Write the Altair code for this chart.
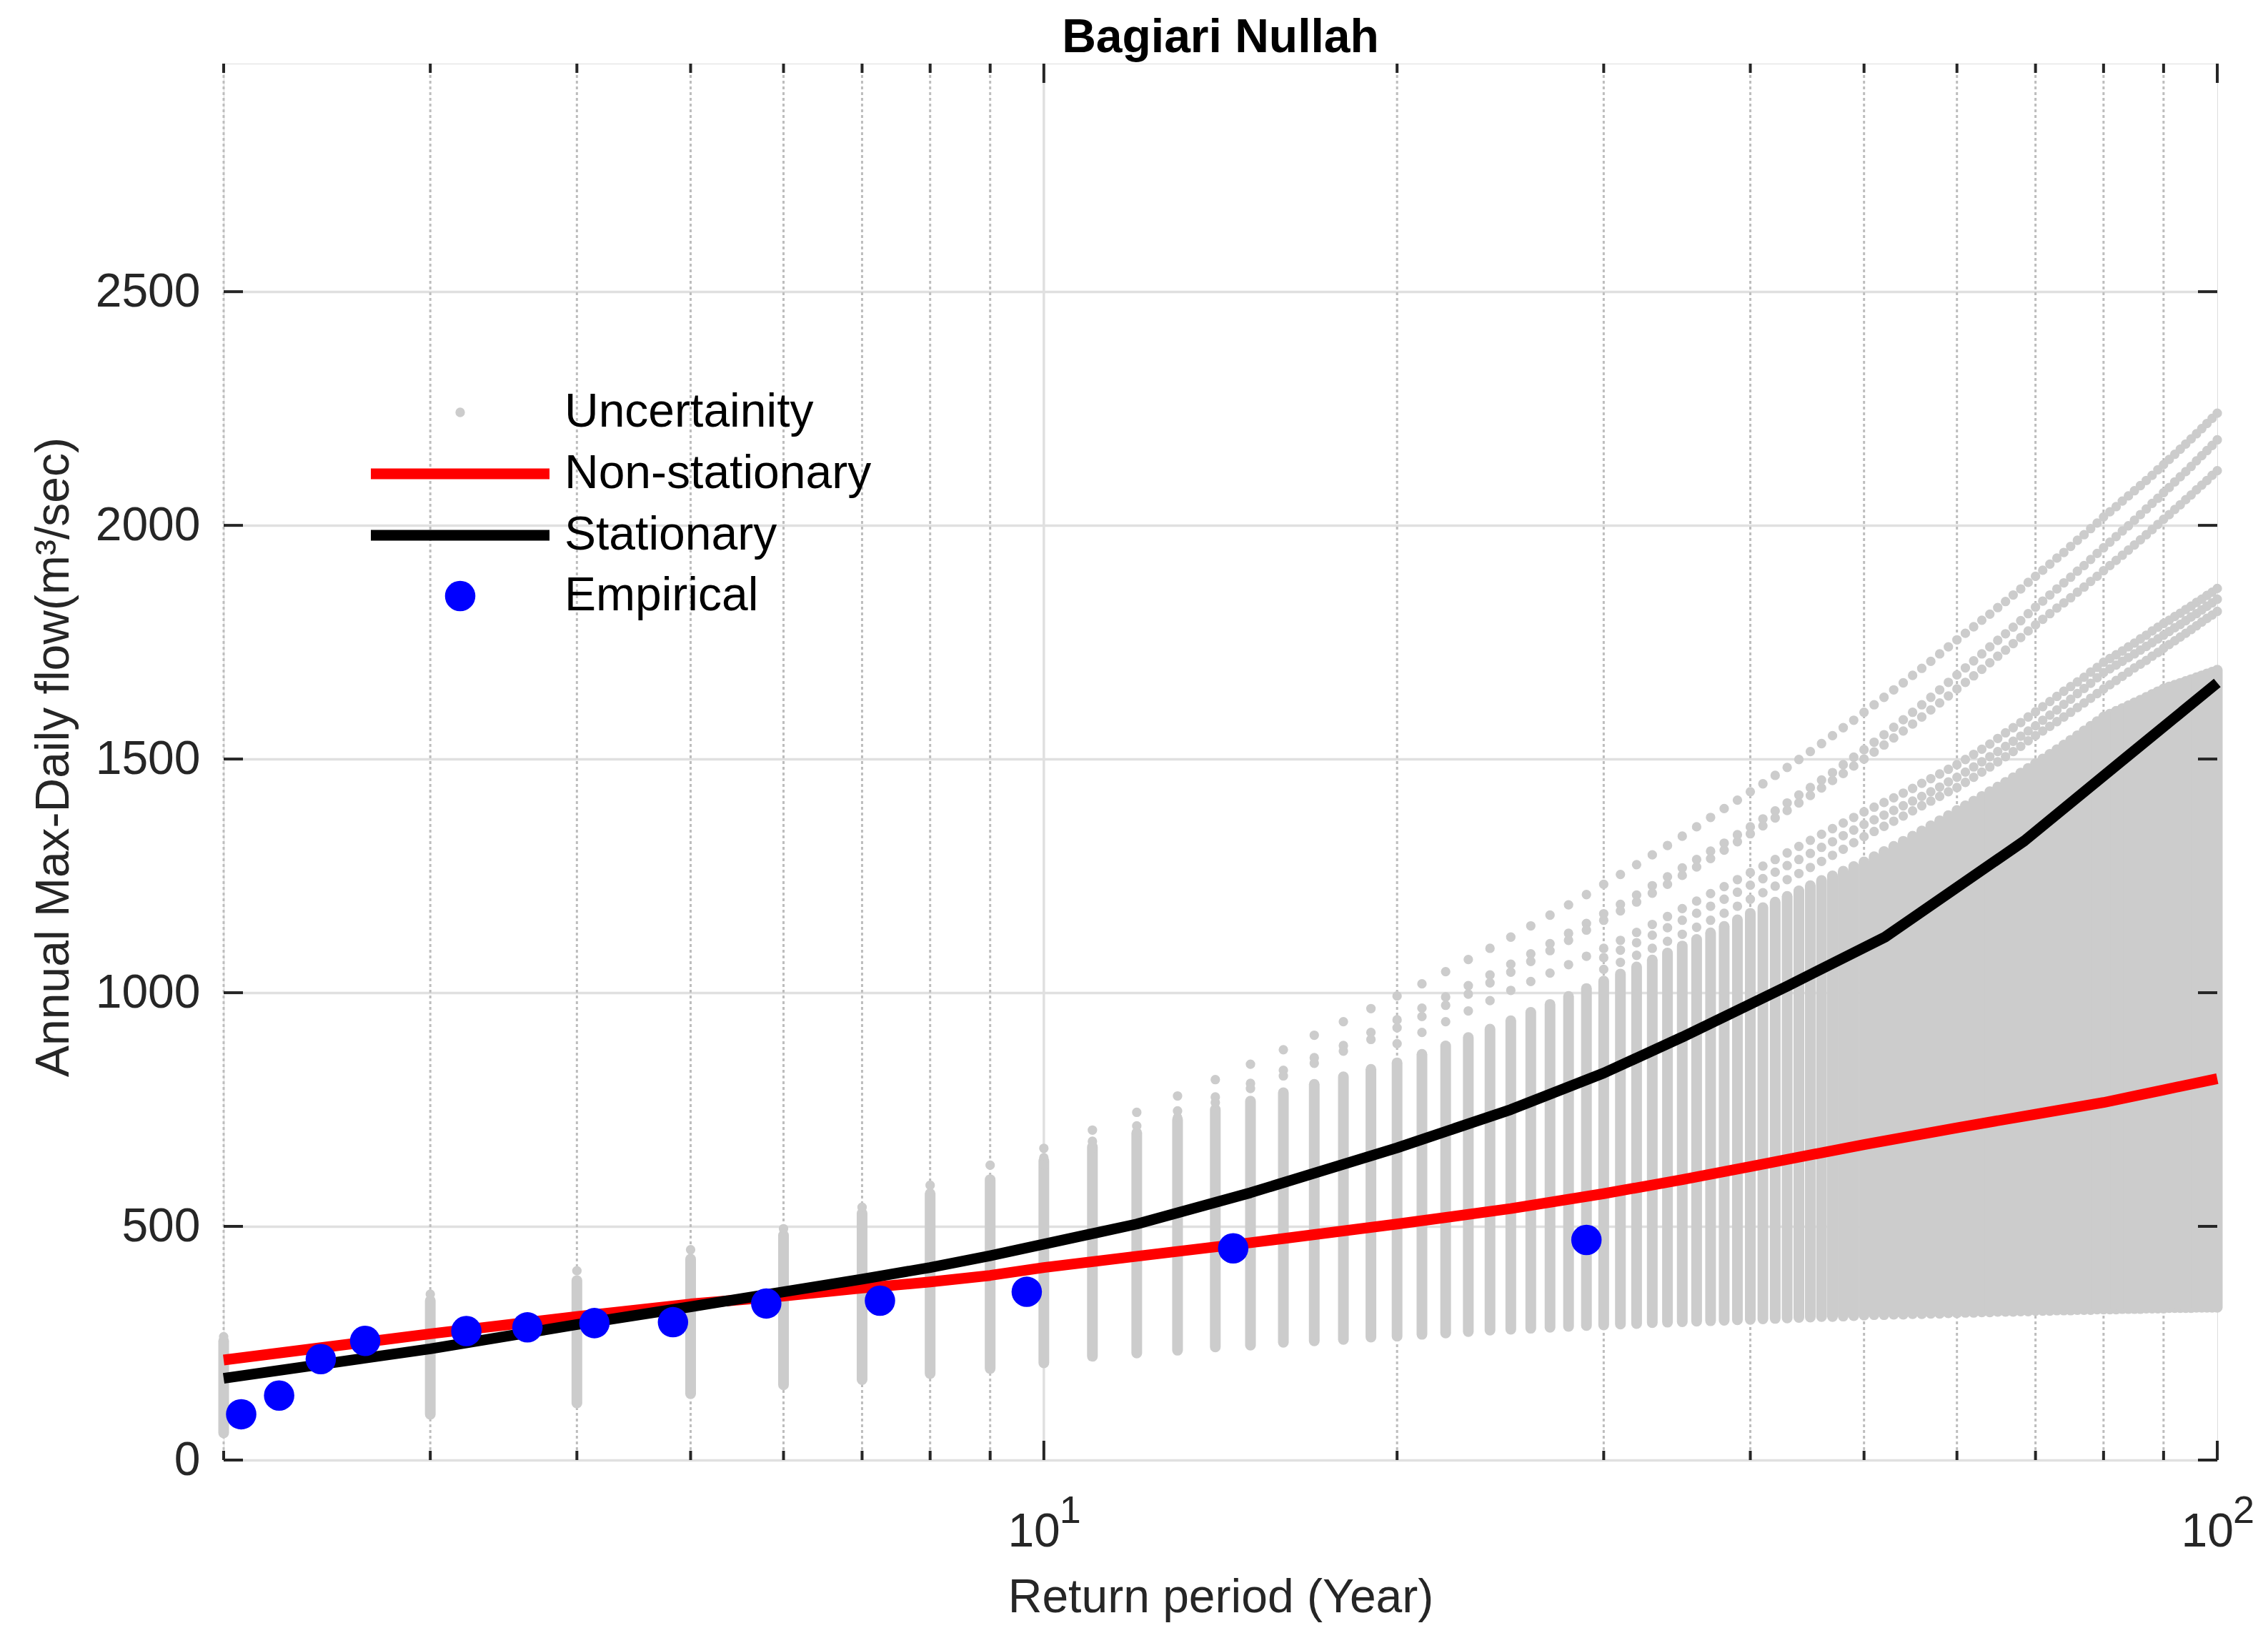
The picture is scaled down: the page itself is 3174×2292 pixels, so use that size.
import altair as alt
import pandas as pd

# ---------------- data ----------------
chart_title = "Bagiari Nullah"
x_title = "Return period (Year)"
y_title = "Annual Max-Daily flow(m\u00b3/sec)"
legend_labels = ["Uncertainity", "Non-stationary", "Stationary", "Empirical"]

# integer return periods at which the uncertainty columns are drawn
unc_T = list(range(2, 101))
# lower end of each gray column
unc_lo = [58, 98, 122, 142, 161, 172, 185, 196, 208,
          222, 229, 235, 242, 246, 252, 255, 258, 263, 265,
          269, 272, 275, 278, 280, 282, 284, 286, 288, 289,
          291, 292, 294, 295, 296, 297, 298, 299, 300, 301,
          302, 303, 304, 305, 306, 307, 307, 308, 309, 310,
          311, 311, 312, 312, 313, 313, 314, 314, 315, 315,
          316, 316, 317, 317, 318, 318, 318, 319, 319, 320,
          320, 320, 321, 321, 321, 322, 322, 322, 323, 323,
          323, 323, 324, 324, 324, 324, 325, 325, 325, 325,
          326, 326, 326, 326, 326, 327, 327, 327, 327, 327]
# top of the dense (solid) part of each gray column
unc_hi = [255, 341, 384, 430, 481, 528, 570, 600, 640,
          670, 700, 728, 750, 768, 786, 804, 820, 836, 850,
          868, 886, 904, 922, 940, 958, 975, 992, 1009, 1025,
          1040, 1055, 1070, 1085, 1100, 1114, 1128, 1142, 1156, 1170,
          1182, 1194, 1206, 1218, 1229, 1240, 1250, 1260, 1270, 1280,
          1291, 1302, 1313, 1324, 1335, 1346, 1357, 1368, 1379, 1390,
          1400, 1410, 1420, 1430, 1440, 1450, 1460, 1470, 1480, 1490,
          1500, 1510, 1520, 1530, 1540, 1550, 1560, 1570, 1580, 1590,
          1596, 1602, 1608, 1614, 1620, 1626, 1632, 1638, 1644, 1650,
          1654, 1658, 1662, 1666, 1670, 1674, 1678, 1682, 1686, 1690]
# sparse upper sample curves (one dot per integer T)
unc_c1 = [264, 355, 405, 450, 495, 541, 588, 631, 667,
          706, 744, 779, 814, 847, 878, 909, 938, 966, 993,
          1019, 1045, 1071, 1095, 1119, 1143, 1166, 1188, 1210, 1232,
          1253, 1274, 1295, 1315, 1335, 1355, 1375, 1394, 1412, 1430,
          1447, 1465, 1482, 1499, 1516, 1533, 1550, 1567, 1583, 1600,
          1616, 1632, 1648, 1663, 1679, 1694, 1709, 1725, 1740, 1755,
          1769, 1783, 1797, 1810, 1824, 1837, 1851, 1864, 1878, 1891,
          1904, 1917, 1930, 1942, 1955, 1968, 1980, 1993, 2005, 2018,
          2029, 2040, 2052, 2063, 2074, 2085, 2096, 2107, 2119, 2130,
          2141, 2152, 2163, 2174, 2185, 2196, 2207, 2218, 2229, 2240]
unc_c2 = [647, 682, 715, 747, 777, 806, 834, 861, 887, 915, 942,
          967, 991, 1015, 1038, 1061, 1083, 1105, 1127, 1148, 1169,
          1189, 1209, 1229, 1248, 1267, 1285, 1303, 1320, 1338, 1355,
          1372, 1389, 1406, 1423, 1439, 1455, 1471, 1488, 1504, 1520,
          1536, 1552, 1568, 1584, 1600, 1616, 1632, 1648, 1664, 1680,
          1695, 1710, 1725, 1740, 1754, 1768, 1782, 1796, 1811, 1825,
          1838, 1851, 1864, 1877, 1889, 1902, 1914, 1927, 1940, 1952,
          1964, 1976, 1988, 1999, 2011, 2023, 2035, 2047, 2058, 2070,
          2081, 2093, 2104, 2115, 2126, 2138, 2149, 2160, 2171, 2183]
unc_c3 = [631, 667, 701, 733, 765, 795, 822, 849, 875, 900, 925,
          949, 973, 997, 1021, 1044, 1067, 1090, 1112, 1134, 1155,
          1175, 1194, 1213, 1232, 1251, 1269, 1287, 1305, 1323, 1340,
          1357, 1374, 1390, 1406, 1422, 1438, 1454, 1469, 1485, 1500,
          1515, 1530, 1545, 1560, 1575, 1590, 1605, 1620, 1635, 1650,
          1664, 1678, 1692, 1706, 1720, 1733, 1747, 1760, 1774, 1787,
          1799, 1811, 1823, 1834, 1845, 1857, 1868, 1880, 1891, 1903,
          1914, 1925, 1936, 1947, 1958, 1969, 1980, 1991, 2002, 2013,
          2023, 2034, 2044, 2055, 2065, 2076, 2086, 2096, 2107, 2117]
unc_m1 = [891, 915, 938, 961, 983, 1005, 1024, 1042, 1060, 1078, 1095,
          1112, 1129, 1146, 1163, 1180, 1196, 1212, 1227, 1242, 1257,
          1271, 1285, 1299, 1313, 1326, 1339, 1351, 1363, 1375, 1387,
          1397, 1407, 1417, 1427, 1437, 1448, 1458, 1468, 1478, 1488,
          1499, 1510, 1521, 1532, 1544, 1556, 1567, 1578, 1590, 1601,
          1612, 1623, 1634, 1645, 1655, 1665, 1675, 1686, 1696, 1707,
          1715, 1723, 1731, 1740, 1748, 1757, 1765, 1774, 1782, 1790,
          1797, 1805, 1812, 1820, 1827, 1835, 1842, 1850, 1857, 1865]
unc_m2 = [1075,
          1091, 1107, 1123, 1139, 1155, 1170, 1185, 1200, 1215, 1230,
          1244, 1258, 1272, 1285, 1298, 1311, 1323, 1336, 1348, 1360,
          1370, 1380, 1390, 1400, 1410, 1420, 1430, 1440, 1451, 1461,
          1472, 1483, 1494, 1505, 1516, 1527, 1538, 1549, 1560, 1571,
          1583, 1594, 1605, 1617, 1628, 1640, 1651, 1662, 1674, 1685,
          1693, 1701, 1709, 1717, 1725, 1733, 1741, 1749, 1757, 1765,
          1773, 1781, 1788, 1796, 1804, 1811, 1819, 1827, 1834, 1842]
unc_m3 = [1050,
          1065, 1080, 1095, 1110, 1125, 1140, 1155, 1170, 1185, 1200,
          1214, 1228, 1242, 1255, 1268, 1281, 1294, 1307, 1321, 1334,
          1345, 1356, 1367, 1378, 1389, 1400, 1410, 1420, 1430, 1439,
          1450, 1461, 1472, 1483, 1494, 1505, 1516, 1527, 1539, 1550,
          1560, 1570, 1580, 1590, 1600, 1610, 1620, 1630, 1640, 1650,
          1659, 1668, 1677, 1686, 1695, 1703, 1711, 1720, 1728, 1737,
          1745, 1753, 1761, 1769, 1777, 1785, 1793, 1801, 1808, 1816]
unc_curve_starts = [2, 10, 10, 20, 30, 30]

# non-stationary (red) and stationary (black) quantile curves
ns_T = [2, 3, 4, 5, 6, 7, 8, 9, 10, 12, 15, 20, 25, 30, 35, 40, 50, 60, 70, 80, 90, 100]
ns_Q = [214, 270, 307, 334, 351, 368, 381, 395, 412, 436, 465, 505, 538, 570, 600, 628,
        675, 711, 740, 765, 792, 816]
st_T = [2, 3, 4, 5, 6, 7, 8, 9, 10, 12, 15, 20, 25, 30, 35, 43, 52.1, 68.5, 83.4, 100]
st_Q = [175, 238, 290, 328, 360, 387, 412, 437, 462, 505, 572, 668, 750, 828, 905,
        1014, 1119, 1325, 1501, 1663]

# empirical points
emp_T = [2.07, 2.23, 2.42, 2.64, 3.22, 3.63, 4.14, 4.83, 5.80, 7.25, 9.67, 14.5, 29.0]
emp_Q = [98, 138, 216, 255, 276, 284, 293, 295, 335, 341, 360, 453, 471]

# axes
x_domain = [2, 100]
y_domain = [0, 2988]
x_major = [10, 100]
x_minor = [2, 3, 4, 5, 6, 7, 8, 9, 20, 30, 40, 50, 60, 70, 80, 90]
x_major_grid = [10]
y_ticks = [0, 500, 1000, 1500, 2000, 2500]
x_label_base = ["10", "10"]
x_label_exp = ["1", "2"]

# ---------------- layout / style ----------------
W, H = 2790, 1954
FONT = "Liberation Sans"
AXC = "#262626"
GRAY = "#cccccc"
DOT_W = 15
DOT_SIZE = 177

cols_df = pd.DataFrame({"T": unc_T, "lo": unc_lo, "hi": unc_hi})
dot_rows = []
for start, series in zip(unc_curve_starts, [unc_c1, unc_c2, unc_c3, unc_m1, unc_m2, unc_m3]):
    for i, q in enumerate(series):
        dot_rows.append({"T": start + i, "Q": q})
dots_df = pd.DataFrame(dot_rows)
ns_df = pd.DataFrame({"T": ns_T, "Q": ns_Q})
st_df = pd.DataFrame({"T": st_T, "Q": st_Q})
emp_df = pd.DataFrame({"T": emp_T, "Q": emp_Q})
xmaj_df = pd.DataFrame({"T": x_major})
xmin_df = pd.DataFrame({"T": x_minor})
xgrid_df = pd.DataFrame({"T": x_major_grid})
ytick_df = pd.DataFrame({"Q": y_ticks})
xlab_df = pd.DataFrame({"T": x_major, "base": x_label_base, "exp": x_label_exp})

xs = alt.Scale(type="log", domain=x_domain, nice=False)
ys = alt.Scale(domain=y_domain, nice=False, zero=False)

x_axis = alt.Axis(labels=False, ticks=False, tickSize=0, domain=False, grid=False,
                  title=x_title, titleFont=FONT, titleFontSize=66, titleFontWeight="normal",
                  titleColor=AXC, titleX=W / 2, titleY=212, titleBaseline="alphabetic",
                  titleAlign="center")
y_axis = alt.Axis(values=y_ticks, format="d", grid=True, gridColor="#e0e0e0", gridWidth=3.5,
                  ticks=False, tickSize=0, domain=False,
                  labelFont=FONT, labelFontSize=66, labelColor=AXC, labelPadding=33,
                  labelBaseline="middle", labelFlush=False,
                  title=y_title, titleFont=FONT, titleFontSize=66, titleFontWeight="normal",
                  titleColor=AXC, titleAngle=270, titleX=-218, titleY=970,
                  titleBaseline="alphabetic", titleAlign="center")

X = lambda f="T": alt.X(f"{f}:Q", scale=xs, axis=x_axis)
Y = lambda f="Q": alt.Y(f"{f}:Q", scale=ys, axis=y_axis)

layers = []
# minor x grid (dotted)
layers.append(alt.Chart(xmin_df).mark_rule(color="#bdbdbd", strokeWidth=3, strokeDash=[4, 4]).encode(
    x=X(), y=alt.value(0), y2=alt.value(H)))
# major x grid (solid)
layers.append(alt.Chart(xgrid_df).mark_rule(color="#e0e0e0", strokeWidth=3.5).encode(
    x=X(), y=alt.value(0), y2=alt.value(H)))
# uncertainty columns
layers.append(alt.Chart(cols_df).mark_rule(color=GRAY, strokeWidth=DOT_W, strokeCap="round").encode(
    x=X(), y=Y("lo"), y2="hi:Q"))
# uncertainty sparse dots
layers.append(alt.Chart(dots_df).mark_circle(color=GRAY, size=DOT_SIZE, opacity=1).encode(
    x=X(), y=Y()))
# non-stationary
layers.append(alt.Chart(ns_df).mark_line(color="#ff0000", strokeWidth=15, strokeJoin="round").encode(
    x=X(), y=Y()))
# stationary
layers.append(alt.Chart(st_df).mark_line(color="#000000", strokeWidth=15, strokeJoin="round").encode(
    x=X(), y=Y()))
# empirical
layers.append(alt.Chart(emp_df).mark_circle(color="#0000ff", size=1810, opacity=1).encode(
    x=X(), y=Y()))

# inward ticks (box axes)
tk = dict(color=AXC, strokeWidth=4)
layers.append(alt.Chart(xmaj_df).mark_rule(**tk).encode(x=X(), y=alt.value(H), y2=alt.value(H - 27)))
layers.append(alt.Chart(xmin_df).mark_rule(**tk).encode(x=X(), y=alt.value(H), y2=alt.value(H - 13)))
layers.append(alt.Chart(xmaj_df).mark_rule(**tk).encode(x=X(), y=alt.value(0), y2=alt.value(27)))
layers.append(alt.Chart(xmin_df).mark_rule(**tk).encode(x=X(), y=alt.value(0), y2=alt.value(13)))
layers.append(alt.Chart(ytick_df).mark_rule(**tk).encode(y=Y(), x=alt.value(0), x2=alt.value(27)))
layers.append(alt.Chart(ytick_df).mark_rule(**tk).encode(y=Y(), x=alt.value(W), x2=alt.value(W - 27)))

# x tick labels 10^1, 10^2
layers.append(alt.Chart(xlab_df).mark_text(font=FONT, fontSize=66, color=AXC, align="right",
                                           baseline="alphabetic", dx=23).encode(
    x=X(), y=alt.value(H + 121), text="base:N"))
layers.append(alt.Chart(xlab_df).mark_text(font=FONT, fontSize=54, color=AXC, align="left",
                                           baseline="alphabetic", dx=22).encode(
    x=X(), y=alt.value(H + 88), text="exp:N"))

# chart title
layers.append(alt.Chart(pd.DataFrame({"label": [chart_title]})).mark_text(
    font=FONT, fontSize=66, fontWeight="bold", color="black", align="center",
    baseline="alphabetic").encode(x=alt.value(W / 2), y=alt.value(-16), text="label:N"))

# legend (no box)
LX_TXT, LX_SYM, LX0, LX1 = 477, 331, 206, 456
LY = [488, 574, 660, 745]
for i, lab in enumerate(legend_labels):
    layers.append(alt.Chart(pd.DataFrame({"label": [lab]})).mark_text(
        font=FONT, fontSize=66, color="black", align="left", baseline="middle").encode(
        x=alt.value(LX_TXT), y=alt.value(LY[i]), text="label:N"))
layers.append(alt.Chart(pd.DataFrame({"k": [0]})).mark_circle(color=GRAY, size=DOT_SIZE, opacity=1).encode(
    x=alt.value(LX_SYM), y=alt.value(LY[0])))
layers.append(alt.Chart(pd.DataFrame({"k": [0]})).mark_rule(color="#ff0000", strokeWidth=15).encode(
    x=alt.value(LX0), x2=alt.value(LX1), y=alt.value(LY[1])))
layers.append(alt.Chart(pd.DataFrame({"k": [0]})).mark_rule(color="#000000", strokeWidth=15).encode(
    x=alt.value(LX0), x2=alt.value(LX1), y=alt.value(LY[2])))
layers.append(alt.Chart(pd.DataFrame({"k": [0]})).mark_circle(color="#0000ff", size=1810, opacity=1).encode(
    x=alt.value(LX_SYM), y=alt.value(LY[3])))

chart = alt.layer(*layers).properties(
    width=W, height=H,
    padding={"left": 305, "top": 81, "right": 63, "bottom": 230},
    autosize=alt.AutoSizeParams(type="none"),
).configure_view(stroke=AXC, strokeWidth=4).configure(background="white")

chart.save("out.html", embed_options={"renderer": "svg", "actions": False})
